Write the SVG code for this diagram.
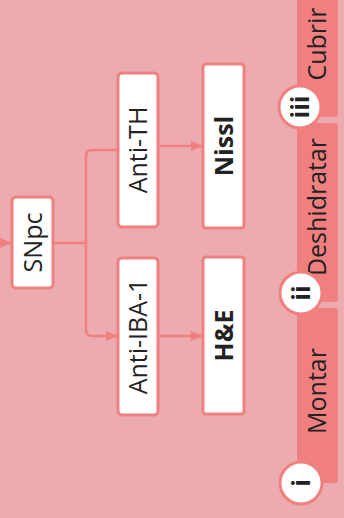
<svg xmlns="http://www.w3.org/2000/svg" width="344" height="518" viewBox="0 0 344 518">
  <style>
    .bg { fill: #ECABAE; }
    .node rect { fill: #FFFFFF; stroke: #F08080; stroke-width: 3; }
    .lbl { font-family: "Open Sans", "Noto Sans", sans-serif; font-size: 25px; fill: #222222; text-anchor: middle; }
    .bold { font-weight: bold; }
    .band { fill: #F08080; }
    .step circle { fill: #FFFFFF; stroke: #F08080; stroke-width: 3; }
    .edge { fill: none; stroke: #F08080; stroke-width: 2.5; }
  </style>
  <defs>
    <marker id="arrow" markerUnits="userSpaceOnUse" markerWidth="12" markerHeight="10" refX="12" refY="5" orient="auto">
      <path d="M0,0 L12,5 L0,10 z" fill="#F08080"/>
    </marker>
  </defs>

  <rect class="bg" x="0" y="0" width="344" height="518"/>

  <!-- process bar along the right edge -->
  <g id="bar">
    <rect id="band-cubrir" class="band" x="297" y="-10" width="41" height="127" rx="3"/>
    <rect id="band-deshidratar" class="band" x="297" y="123" width="41" height="179" rx="3"/>
    <rect id="band-montar" class="band" x="297" y="308" width="41" height="175" rx="3"/>
    <text class="lbl" transform="translate(317,44) rotate(-90)" y="9">Cubrir</text>
    <text class="lbl" transform="translate(317,207) rotate(-90)" y="9">Deshidratar</text>
    <text class="lbl" transform="translate(317,391) rotate(-90)" y="9">Montar</text>
  </g>
  <g id="step-iii" class="step">
    <circle cx="300" cy="107" r="21"/>
    <text class="lbl bold" transform="translate(300,107) rotate(-90)" y="9">iii</text>
  </g>
  <g id="step-ii" class="step">
    <circle cx="301" cy="293" r="21"/>
    <text class="lbl bold" transform="translate(301,293) rotate(-90)" y="9">ii</text>
  </g>
  <g id="step-i" class="step">
    <circle cx="301" cy="483" r="21"/>
    <text class="lbl bold" transform="translate(301,483) rotate(-90)" y="9">i</text>
  </g>

  <!-- connectors -->
  <g id="edges">
    <path class="edge" d="M-20,243 H12" marker-end="url(#arrow)"/>
    <path class="edge" d="M53,243 H86"/>
    <path class="edge" d="M118,150 H92 Q86,150 86,156 V330 Q86,336 92,336 H118" marker-start="url(#arrow)" marker-end="url(#arrow)"/>
    <path class="edge" d="M158,146 H203" marker-end="url(#arrow)"/>
    <path class="edge" d="M158,336 H203" marker-end="url(#arrow)"/>
  </g>

  <!-- nodes -->
  <g id="snpc" class="node">
    <rect x="12" y="197" width="41" height="91" rx="4"/>
    <text class="lbl" transform="translate(32.5,242.5) rotate(-90)" y="9">SNpc</text>
  </g>
  <g id="anti-th" class="node">
    <rect x="118" y="73" width="40" height="154" rx="4"/>
    <text class="lbl" transform="translate(138,150) rotate(-90)" y="9">Anti-TH</text>
  </g>
  <g id="anti-iba1" class="node">
    <rect x="118" y="258" width="40" height="157" rx="4"/>
    <text class="lbl" transform="translate(138,336.5) rotate(-90)" y="9">Anti-IBA-1</text>
  </g>
  <g id="nissl" class="node">
    <rect x="203" y="64" width="41" height="164" rx="3"/>
    <text class="lbl bold" transform="translate(223.5,146) rotate(-90)" y="9">Nissl</text>
  </g>
  <g id="he" class="node">
    <rect x="203" y="257" width="41" height="157" rx="3"/>
    <text class="lbl bold" transform="translate(223.5,335.5) rotate(-90)" y="9">H&amp;E</text>
  </g>
</svg>
